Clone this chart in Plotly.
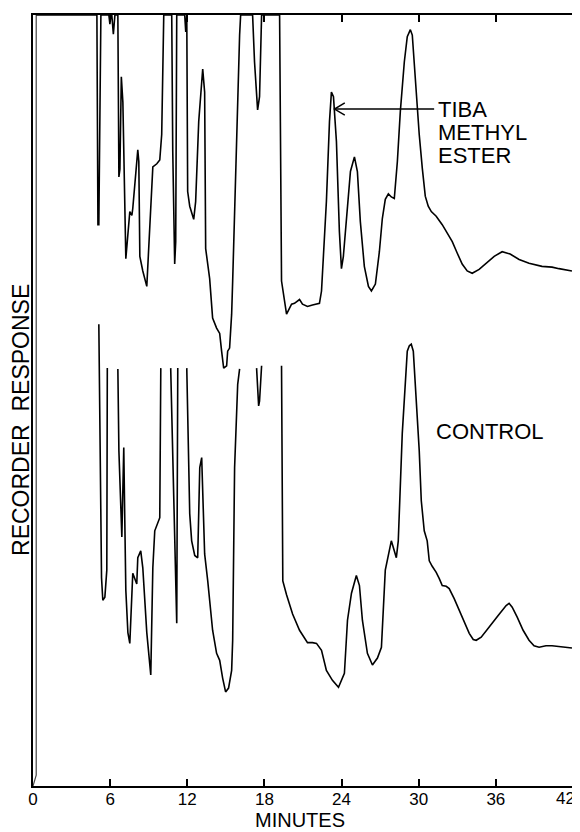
import plotly.graph_objects as go

# ---------------- data (minutes, recorder response 0-100, off-scale = gaps / 100) -------------
tiba_time = [0.25, 4.97, 5.05, 5.12, 5.28, 5.90, 5.98, 6.06, 6.13, 6.25, 6.37, 6.60, 6.68, 6.76,
             6.87, 6.95, 6.99, 7.22, 7.53, 7.69, 7.76, 8.15, 8.23, 8.31, 8.54, 8.85, 9.08, 9.32,
             9.63, 9.86, 10.01, 10.17, 10.79, 10.87, 11.02, 11.10, 11.18, 11.80, 11.88, 11.96,
             12.03, 12.19, 12.50, 12.65, 12.89, 13.20, 13.35, 13.43, 13.74, 13.97, 14.28, 14.52,
             14.67, 14.83, 15.06, 15.14, 15.29, 15.45, 15.53, 15.76, 16.07, 16.15, 17.08, 17.23,
             17.47, 17.62, 17.78, 19.18, 19.25, 19.33, 19.72, 20.11, 20.34, 20.73, 20.96, 21.35,
             21.74, 22.28, 22.44, 22.67, 22.82, 23.06, 23.21, 23.37, 23.60, 23.83, 23.99, 24.14,
             24.38, 24.69, 25.00, 25.23, 25.46, 25.77, 26.09, 26.32, 26.63, 26.94, 27.17, 27.40,
             27.64, 27.87, 28.10, 28.34, 28.57, 28.88, 29.11, 29.35, 29.50, 29.73, 30.04, 30.28,
             30.51, 30.74, 30.98, 31.36, 31.83, 32.22, 32.61, 33.00, 33.38, 33.77, 34.16, 34.70,
             35.25, 35.87, 36.49, 37.11, 37.81, 38.58, 39.59, 40.37, 40.91, 41.92]
tiba_resp = [100, 100, 72.8, 72.8, 100, 100, 98.8, 100, 100, 97.5, 100, 100, 79.0, 80.0,
             92.0, 90.0, 88.7, 68.4, 74.5, 74.0, 74.9, 82.5, 81.0, 68.7, 66.8, 64.8, 71.9, 80.3,
             80.7, 81.2, 84.5, 100, 100, 82.3, 67.7, 70.6, 100, 100, 97.8, 100,
             77.1, 75.2, 73.5, 75.8, 86.2, 93.0, 90.0, 69.7, 65.8, 60.7, 59.4, 58.7,
             56.4, 54.2, 54.5, 56.4, 56.8, 61.2, 65.5, 79.7, 97.4, 100, 100, 93.9,
             87.7, 89.4, 100, 100, 82.3, 65.5, 61.2, 62.5, 62.6, 63.1, 62.5, 62.2,
             62.4, 62.6, 64.2, 71.9, 75.8, 86.2, 90.0, 89.4, 83.6, 71.9, 67.1, 68.7,
             73.6, 79.7, 81.6, 79.7, 73.2, 67.4, 64.8, 64.2, 65.1, 69.3, 73.6, 76.1,
             76.8, 76.4, 76.2, 81.0, 87.5, 93.9, 97.2, 98.1, 97.4, 91.3, 84.5, 80.1,
             76.5, 75.2, 74.5, 73.9, 72.8, 71.7, 70.6, 69.1, 67.7, 66.8, 66.5, 67.0,
             67.8, 68.7, 69.3, 69.0, 68.3, 67.8, 67.4, 67.3, 67.1, 66.8]

ctrl_time = [5.12, 5.20, 5.33, 5.43, 5.59, 5.74, 5.78, None,
             6.60, 6.68, 6.91, 6.99, 7.06, 7.14, 7.22, 7.38, 7.53, 7.76, 7.92, 8.07, 8.15, 8.38,
             8.54, 8.85, 9.16, 9.32, 9.47, 9.86, 9.94, None,
             10.71, 11.18, 11.26, None,
             11.96, 12.11, 12.19, 12.34, 12.58, 12.81, 12.89, 12.97, 13.12, 13.20, 13.35, 13.59,
             13.74, 13.97, 14.28, 14.52, 14.75, 14.98, 15.21, 15.45, 15.53, 15.68, 15.92, 16.07, None,
             17.39, 17.47, 17.55, 17.62, 17.70, 17.78, None,
             19.33, 19.37, 19.41, 19.43, 19.72, 20.19, 20.73, 21.35, 21.74, 22.05, 22.44, 22.82,
             23.29, 23.76, 24.22, 24.46, 24.77, 25.15, 25.39, 25.62, 26.01, 26.40, 26.79, 27.10,
             27.40, 27.87, 28.26, 28.41, 28.72, 28.96, 29.11, 29.27, 29.42, 29.58, 29.73, 29.89,
             30.04, 30.20, 30.43, 30.66, 30.82, 31.05, 31.36, 31.60, 31.83, 32.14, 32.37, 32.76,
             33.15, 33.54, 33.93, 34.24, 34.47, 34.86, 35.25, 35.71, 36.18, 36.49, 36.80, 37.03,
             37.27, 37.66, 38.12, 38.58, 38.97, 39.36, 39.90, 40.37, 40.76, 41.15, 41.92]
ctrl_resp = [59.9, 47.3, 27.0, 24.1, 24.5, 28.0, 54.2, None,
             54.1, 43.5, 32.3, 40.0, 43.9, 34.4, 25.4, 19.9, 18.5, 27.6, 27.0, 26.2, 29.6, 30.5,
             28.3, 19.9, 14.4, 28.3, 33.1, 34.8, 54.2, None,
             54.2, 21.1, 54.2, None,
             54.2, 40.9, 35.3, 31.8, 29.9, 29.6, 34.4, 41.3, 42.6, 37.0, 30.1, 26.6,
             24.1, 20.2, 17.2, 16.3, 14.0, 12.2, 12.7, 15.0, 18.9, 41.3, 52.1, 54.1, None,
             54.2, 50.6, 49.3, 49.9, 52.5, 54.5, None,
             54.5, 43.5, 31.8, 26.6, 24.8, 22.3, 20.2, 18.6, 18.6, 18.5, 17.6, 15.0,
             13.7, 12.8, 14.6, 21.5, 25.0, 27.3, 26.0, 21.5, 17.2, 15.7, 16.6, 18.0,
             28.0, 31.8, 29.6, 31.8, 45.7, 51.9, 56.4, 57.1, 57.3, 56.4, 52.5, 47.3,
             43.5, 37.0, 33.1, 31.8, 29.2, 28.5, 27.7, 26.9, 26.0, 25.9, 25.6, 24.3,
             22.8, 21.2, 19.8, 19.0, 18.9, 19.3, 20.2, 21.1, 22.1, 22.8, 23.4, 23.7,
             23.2, 21.9, 20.2, 18.9, 18.2, 18.0, 18.2, 18.2, 18.1, 18.0, 17.9]

inject_time = [0.0, 0.25, 0.25]
inject_resp = [0.0, 1.4, 100]

tick_vals = [0, 6, 12, 18, 24, 30, 36, 42]
tick_text = ["0", "6", "12", "18", "24", "30", "36", "42"]

tiba_peak_time = 23.21
tiba_label_lines = ["TIBA", "METHYL", "ESTER"]
control_label = "CONTROL"

# ---------------- figure ----------------
# the page body has an 8px default margin, so the figure is 8px smaller than the window
FONT = "Liberation Sans, Arial, sans-serif"
fig = go.Figure()
fig.add_trace(go.Scatter(x=inject_time, y=inject_resp, mode="lines",
                         line=dict(color="#444444", width=1.2), hoverinfo="skip"))
fig.add_trace(go.Scatter(x=tiba_time, y=tiba_resp, mode="lines", connectgaps=False,
                         line=dict(color="black", width=1.6)))
fig.add_trace(go.Scatter(x=ctrl_time, y=ctrl_resp, mode="lines", connectgaps=False,
                         line=dict(color="black", width=1.6)))

# arrow pointing to TIBA methyl ester peak
y_arrow = 87.8
tip = tiba_peak_time + 0.24
tail = 31.2
fig.add_shape(type="line", x0=tail, x1=tip, y0=y_arrow, y1=y_arrow,
              line=dict(color="black", width=1.5))
fig.add_shape(type="path",
              path=f"M {tip+0.8},{y_arrow+0.8} L {tip},{y_arrow} L {tip+0.8},{y_arrow-0.8}",
              line=dict(color="black", width=1.5))

for i, txt in enumerate(tiba_label_lines):
    fig.add_annotation(x=31.35, y=y_arrow - i * 2.98, text=txt, showarrow=False,
                       xanchor="left", yanchor="middle",
                       font=dict(family=FONT, size=22, color="black"))
fig.add_annotation(x=31.2, y=46.0, text=control_label, showarrow=False,
                   xanchor="left", yanchor="middle",
                   font=dict(family=FONT, size=22, color="black"))

# last tick label sits flush with the right edge, as in the original
last_label = tick_text[-1]
shown_text = tick_text[:-1] + [""]
fig.add_annotation(x=tick_vals[-1], xref="x", yref="paper", y=0, yshift=-12,
                   text=last_label, showarrow=False, xanchor="right", yanchor="middle",
                   xshift=3, borderpad=0, font=dict(family=FONT, size=17, color="black"))

fig.add_annotation(xref="paper", yref="paper", x=(300 - 33) / 541, y=0, yshift=-46,
                   text="MINUTES", showarrow=False, xanchor="center", yanchor="bottom",
                   borderpad=0, font=dict(family=FONT, size=20, color="black"))
fig.add_annotation(xref="paper", yref="paper", x=(21 - 33) / 541, y=(786 - 419) / 773,
                   text="RECORDER  RESPONSE", textangle=-90, showarrow=False,
                   xanchor="center", yanchor="middle",
                   font=dict(family=FONT, size=23, color="black"))

fig.update_layout(
    width=572, height=824,
    margin=dict(l=25, r=6, t=5, b=46),
    paper_bgcolor="white", plot_bgcolor="white",
    showlegend=False,
    xaxis=dict(range=[0, 42], tickvals=tick_vals, ticktext=shown_text,
               ticks="inside", ticklen=7, tickwidth=1.5, tickcolor="black",
               ticklabelstandoff=-3,
               showline=True, linecolor="black", linewidth=1.6, mirror="ticks",
               showgrid=False, zeroline=False,
               tickfont=dict(family=FONT, size=17, color="black")),
    yaxis=dict(range=[0, 100], showticklabels=False, ticks="",
               showline=True, linecolor="black", linewidth=1.6, mirror=True,
               showgrid=False, zeroline=False),
)

fig.write_html("out.html")
